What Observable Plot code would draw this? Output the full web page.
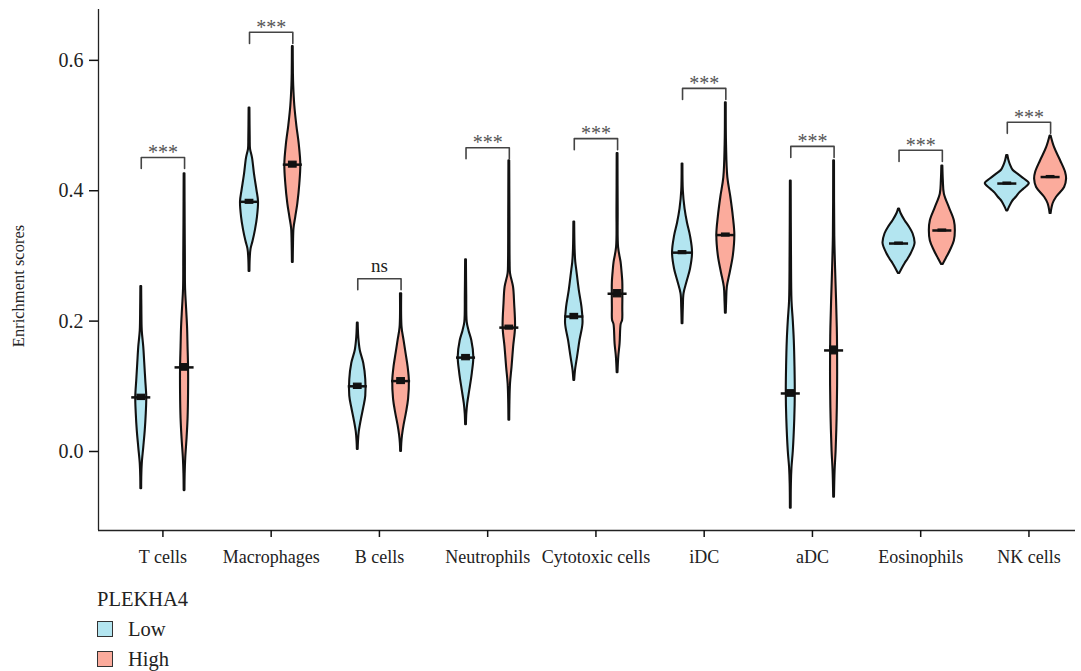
<!DOCTYPE html>
<html><head><meta charset="utf-8">
<script src="https://cdn.jsdelivr.net/npm/d3@7"></script>
<script src="https://cdn.jsdelivr.net/npm/@observablehq/plot@0.6"></script>
<style>
body{margin:0;background:#fff;font-family:"Liberation Serif",serif;}
#wrap{position:relative;width:1081px;height:671px;}
#legend{position:absolute;left:97px;top:585px;color:#222;font-size:20.5px;}
#legend .title{height:29px;line-height:29px;}
#legend .item{display:flex;align-items:center;height:30px;}
#legend .sw{width:16px;height:16px;border:1.3px solid #333;margin-right:15px;box-sizing:border-box;}
</style></head><body>
<div id="wrap"><div id="chart"></div><div id="legend"></div></div>
<script>
const categories = ["T cells","Macrophages","B cells","Neutrophils","Cytotoxic cells","iDC","aDC","Eosinophils","NK cells"];
const groups = ["Low","High"];
const groupColors = ["#b3e5f0","#fbab9c"];
const legendTitle = "PLEKHA4";
const yLabel = "Enrichment scores";
const yTicks = [0, 0.2, 0.4, 0.6];

const medianLow  = [0.083,0.383,0.100,0.144,0.207,0.305,0.089,0.319,0.411];
const medianHigh = [0.129,0.440,0.108,0.190,0.242,0.332,0.155,0.339,0.421];
const seLow  = [0.004,0.003,0.004,0.004,0.004,0.0023,0.005,0.0015,0.0015];
const seHigh = [0.005,0.0045,0.0045,0.003,0.0055,0.0023,0.006,0.0015,0.0015];
const sigLabels = ["***","***","ns","***","***","***","***","***","***"];
const sigY = [0.451,0.643,0.265,0.466,0.480,0.557,0.468,0.462,0.505];

// violin profiles: [score, density]
const tLow = [[0.253,0.4],[0.22,0.6],[0.185,1],[0.16,2.5],[0.135,3.5],[0.109,4.5],[0.083,5.5],[0.058,5],[0.032,4],[0.006,2.5],[-0.019,1],[-0.04,0.5],[-0.057,0.4]];
const tHigh = [[0.426,0.4],[0.35,0.6],[0.3,0.8],[0.25,1],[0.22,2],[0.19,3],[0.16,3.5],[0.129,4],[0.09,4],[0.05,3.5],[0.02,2.5],[-0.01,1.2],[-0.035,0.6],[-0.06,0.4]];
const macLow = [[0.527,0.4],[0.48,0.7],[0.464,1],[0.45,3],[0.425,5],[0.40,7.5],[0.383,9],[0.36,8],[0.34,6],[0.322,3.5],[0.31,1.5],[0.295,0.7],[0.276,0.4]];
const macHigh = [[0.621,0.4],[0.58,0.6],[0.561,0.9],[0.53,2],[0.50,4],[0.47,6.5],[0.44,8],[0.41,7],[0.38,5],[0.36,3],[0.342,1.2],[0.32,0.7],[0.29,0.4]];
const bLow = [[0.197,0.4],[0.175,1],[0.155,2.5],[0.135,6],[0.11,8],[0.085,8],[0.067,6],[0.048,3.5],[0.03,1.5],[0.015,0.7],[0.003,0.4]];
const bHigh = [[0.242,0.6],[0.19,1],[0.17,3],[0.15,5],[0.13,7],[0.108,8.3],[0.08,7.5],[0.06,5.5],[0.04,3],[0.025,1.5],[0.012,0.7],[0.0,0.4]];
const neutLow = [[0.294,0.4],[0.24,0.7],[0.198,1.2],[0.185,3],[0.17,5.8],[0.145,7.8],[0.12,6.3],[0.094,3.8],[0.073,1.7],[0.058,0.8],[0.041,0.4]];
const neutHigh = [[0.446,0.4],[0.36,0.6],[0.29,0.8],[0.273,1.2],[0.252,4.2],[0.227,5.3],[0.19,6.2],[0.16,4.3],[0.129,2.7],[0.104,1.2],[0.075,0.6],[0.048,0.4]];
const cytoLow = [[0.352,0.4],[0.31,0.8],[0.29,1.5],[0.278,2.5],[0.247,5],[0.221,7.7],[0.196,8.7],[0.17,5.7],[0.145,3.3],[0.124,1.2],[0.109,0.4]];
const cytoHigh = [[0.457,0.4],[0.37,0.6],[0.313,1],[0.29,3.5],[0.278,4.3],[0.26,5.2],[0.243,5.3],[0.22,5.2],[0.201,5],[0.195,3.6],[0.165,2.5],[0.145,1.2],[0.121,0.4]];
const idcLow = [[0.441,0.4],[0.40,0.8],[0.372,2.5],[0.35,5],[0.33,8],[0.305,10],[0.28,8],[0.26,4.5],[0.242,1.5],[0.22,0.8],[0.196,0.4]];
const idcHigh = [[0.535,0.4],[0.47,0.7],[0.42,2],[0.39,5],[0.36,7.5],[0.332,9],[0.30,7.5],[0.275,4.5],[0.252,1.5],[0.23,0.8],[0.212,0.4]];
const adcLow = [[0.415,0.4],[0.30,0.7],[0.231,1.2],[0.20,2.5],[0.17,3.5],[0.13,4.2],[0.089,4.5],[0.05,4],[0.0,2.5],[-0.025,1.2],[-0.05,0.6],[-0.087,0.4]];
const adcHigh = [[0.446,0.4],[0.33,0.7],[0.28,1.5],[0.23,2.5],[0.19,3.2],[0.155,3.5],[0.10,3.5],[0.05,3],[0.0,2],[-0.03,1],[-0.07,0.4]];
const eosLow = [[0.372,0.5],[0.365,2],[0.354,6],[0.344,10.5],[0.334,14],[0.319,16],[0.303,12],[0.295,9],[0.288,6],[0.28,3],[0.273,0.6]];
const eosHigh = [[0.438,0.5],[0.415,1],[0.395,2],[0.374,7],[0.354,12],[0.339,13],[0.323,12],[0.308,8],[0.296,4],[0.287,0.8]];
const nkLow = [[0.454,0.6],[0.447,1.5],[0.44,3],[0.431,6],[0.425,11],[0.418,17],[0.411,22],[0.403,17],[0.396,12],[0.39,9],[0.385,6],[0.38,4],[0.374,2],[0.369,0.6]];
const nkHigh = [[0.484,0.5],[0.466,4],[0.446,10],[0.428,15],[0.418,16],[0.405,14],[0.39,6],[0.38,2.5],[0.365,0.5]];

const profilesLow  = [tLow, macLow, bLow, neutLow, cytoLow, idcLow, adcLow, eosLow, nkLow];
const profilesHigh = [tHigh, macHigh, bHigh, neutHigh, cytoHigh, idcHigh, adcHigh, eosHigh, nkHigh];

// layout constants
const XMIN = -0.595, XMAX = 8.43, YMIN = -0.1212, YMAX = 0.678;
const OFF = 0.2;          // group offset within category
const DSCALE = 1/108.25;  // density -> category units
const BAR = 0.088, BOX = 0.035, ARM = 0.017;

const pos = (i, g) => i + (g === 0 ? -OFF : OFF);

const violinRows = [];
[profilesLow, profilesHigh].forEach((profs, g) => {
  profs.forEach((prof, i) => {
    prof.forEach(([v, d]) => violinRows.push({key: i + "-" + g, group: groups[g], p: pos(i, g), v, d}));
  });
});
const medRows = [];
[[medianLow, seLow], [medianHigh, seHigh]].forEach(([med, se], g) => {
  med.forEach((m, i) => medRows.push({p: pos(i, g), m, se: se[i]}));
});
const bracketRows = [];
sigY.forEach((b, i) => {
  bracketRows.push({k: i, x: pos(i, 0), y: b - ARM});
  bracketRows.push({k: i, x: pos(i, 0), y: b});
  bracketRows.push({k: i, x: pos(i, 1), y: b});
  bracketRows.push({k: i, x: pos(i, 1), y: b - ARM});
});
const sigRows = sigLabels.map((t, i) => ({i, t, y: sigY[i]}));

const chart = Plot.plot({
  width: 1081, height: 580,
  marginLeft: 98, marginRight: 6, marginTop: 9, marginBottom: 50,
  style: {fontFamily: "Liberation Serif, serif", fontSize: "18px", color: "#222", background: "#fff"},
  x: {domain: [XMIN, XMAX]},
  y: {domain: [YMIN, YMAX]},
  color: {domain: groups, range: groupColors},
  marks: [
    Plot.areaX(violinRows, {y: "v", x1: r => r.p - r.d * DSCALE, x2: r => r.p + r.d * DSCALE, z: "key", fill: "group", stroke: "#111", strokeWidth: 2.1, curve: "catmull-rom"}),
    Plot.ruleY(medRows, {y: "m", x1: r => r.p - BAR, x2: r => r.p + BAR, stroke: "#111", strokeWidth: 2.5}),
    Plot.rect(medRows, {x1: r => r.p - BOX, x2: r => r.p + BOX, y1: r => r.m - r.se, y2: r => r.m + r.se, fill: "#111", stroke: "#111", strokeWidth: 1.2}),
    Plot.line(bracketRows, {x: "x", y: "y", z: "k", stroke: "#444", strokeWidth: 1.6}),
    Plot.text(sigRows.filter(d => d.t !== "ns"), {x: "i", y: "y", text: "t", fontSize: 20, fill: "#555", lineAnchor: "middle", dy: -5, style: "letter-spacing:2px"}),
    Plot.text(sigRows.filter(d => d.t === "ns"), {x: "i", y: "y", text: "t", fontSize: 19, fill: "#222", lineAnchor: "middle", dy: -13}),
    Plot.ruleX([XMIN], {y1: YMIN, y2: YMAX, stroke: "#222", strokeWidth: 1.3}),
    Plot.ruleY([YMIN], {x1: XMIN, x2: XMAX, stroke: "#222", strokeWidth: 1.3}),
    Plot.axisY(yTicks, {tickFormat: d3.format(".1f"), tickSize: 9, tickPadding: 6, fontSize: 20, label: null, stroke: "#111", strokeWidth: 1.5}),
    Plot.text([yLabel], {frameAnchor: "left", rotate: -90, dx: -80, dy: 16, fontSize: 16.5, fill: "#222", textAnchor: "middle", lineAnchor: "middle"}),
    Plot.axisX(categories.map((_, i) => i), {tickFormat: i => categories[i], tickSize: 7, tickPadding: 13, fontSize: 18, label: null, stroke: "#111", strokeWidth: 1.5})
  ]
});
document.getElementById("chart").appendChild(chart);

const legend = document.getElementById("legend");
const title = document.createElement("div");
title.className = "title"; title.textContent = legendTitle;
legend.appendChild(title);
groups.forEach((g, i) => {
  const item = document.createElement("div"); item.className = "item";
  const sw = document.createElement("div"); sw.className = "sw"; sw.style.background = groupColors[i];
  const lab = document.createElement("span"); lab.textContent = g;
  item.appendChild(sw); item.appendChild(lab); legend.appendChild(item);
});
</script></body></html>
